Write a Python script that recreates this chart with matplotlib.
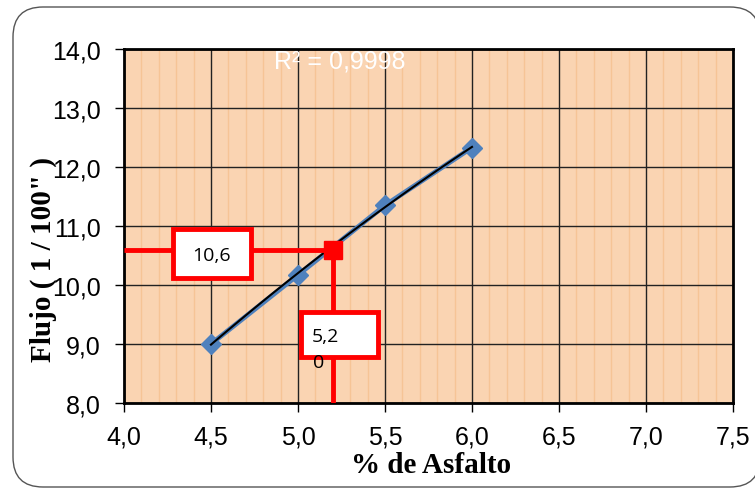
import numpy as np
import matplotlib.pyplot as plt
from matplotlib.patches import FancyBboxPatch, Rectangle
from matplotlib.ticker import MultipleLocator

# ensayo Marshall: flujo vs contenido de asfalto
asfalto = [4.5, 5.0, 5.5, 6.0]
flujo = [9.0, 10.17, 11.35, 12.33]
optimo_x = 5.2
optimo_y = 10.6
r2_text = "R² = 0,9998"

plt.rcParams['font.family'] = ['Liberation Sans', 'DejaVu Sans']

fig = plt.figure(figsize=(7.55, 4.89), dpi=100)
# marco redondeado del area del grafico (en pulgadas)
marco = FancyBboxPatch((0.13, 0.01), 7.47, 4.80, boxstyle="round,pad=0,rounding_size=0.3",
                       transform=fig.dpi_scale_trans, fc="white", ec="#555555", lw=1.0, zorder=-10)
fig.patches.append(marco)
ax = fig.add_axes([0.1642, 0.1738, 0.8067, 0.724])
ax.set_facecolor("#FAD4B2")

ax.set_xlim(4.0, 7.5)
ax.set_ylim(8.0, 14.0)
ax.xaxis.set_major_locator(MultipleLocator(0.5))
ax.xaxis.set_minor_locator(MultipleLocator(0.1))
ax.yaxis.set_major_locator(MultipleLocator(1.0))
fmt = lambda v, p: f"{v:.1f}".replace(".", ",")
ax.xaxis.set_major_formatter(plt.FuncFormatter(fmt))
ax.yaxis.set_major_formatter(plt.FuncFormatter(fmt))

ax.grid(which="minor", axis="x", color="#F6C496", lw=1.0)
ax.grid(which="major", axis="both", color="#222222", lw=1.0)
ax.set_axisbelow(True)
ax.tick_params(which="minor", length=0)
ax.tick_params(which="major", direction="out", length=6.5, width=1, labelsize=18)
ax.tick_params(axis="x", pad=9)
ax.tick_params(axis="y", pad=10)
for s in ax.spines.values():
    s.set_linewidth(2)

# serie y linea de tendencia
ax.plot(asfalto, flujo, color="#4F81BD", lw=3.5, marker="D", ms=10, zorder=3)
coef = np.polyfit(asfalto, flujo, 2)
xs = np.linspace(asfalto[0], asfalto[-1], 100)
ax.plot(xs, np.polyval(coef, xs), color="black", lw=1.5, zorder=4)

# lineas del optimo
ax.plot([4.0, optimo_x], [optimo_y, optimo_y], color="red", lw=3.5, zorder=5, solid_capstyle="butt")
ax.plot([optimo_x, optimo_x], [8.0, optimo_y], color="red", lw=3.5, zorder=5, solid_capstyle="butt")
ax.plot([optimo_x], [optimo_y], marker="s", color="red", ms=13, zorder=6)

# cuadros de etiqueta
ax.add_patch(Rectangle((4.28, 10.12), 0.45, 0.83, fc="white", ec="red", lw=3.5, zorder=7))
ax.text(4.505, 10.5, "10,6", ha="center", va="center", fontsize=14, family="Open Sans", zorder=8)
ax.add_patch(Rectangle((5.02, 8.78), 0.44, 0.76, fc="white", ec="red", lw=3.5, zorder=7))
ax.text(5.08, 9.13, "5,2", ha="left", va="center", fontsize=14, family="Open Sans", zorder=8)
ax.text(5.12, 8.7, "0", ha="center", va="center", fontsize=14, family="Open Sans", zorder=8)

ax.text(5.24, 13.8, r2_text, ha="center", va="center", fontsize=18, color="white")

fig.text(431 / 755, 1 - 466 / 489, "% de Asfalto", ha="center", va="center",
         fontsize=21, fontweight="bold", family="Liberation Serif")
fig.text(43 / 755, 1 - 260 / 489, "Flujo ( 1 / 100\" )", ha="center", va="center", rotation=90,
         fontsize=21, fontweight="bold", family="Liberation Serif")

fig.savefig("out.png", dpi=100)
